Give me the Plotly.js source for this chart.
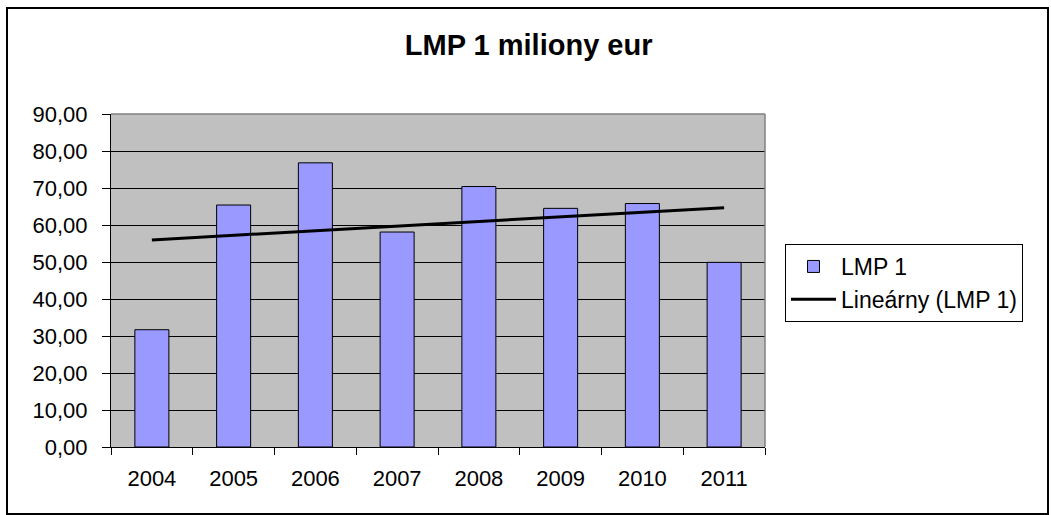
<!DOCTYPE html>
<html>
<head>
<meta charset="utf-8">
<script src="https://cdn.plot.ly/plotly-3.0.1.min.js"></script>
<style>html,body{margin:0;padding:0;background:#fff;}#chart{width:1051px;height:515px;}</style>
</head>
<body>
<div id="chart"></div>
<script>
const years = ["2004", "2005", "2006", "2007", "2008", "2009", "2010", "2011"];
const lmp1 = [31.7, 65.4, 76.8, 58.1, 70.4, 64.5, 65.8, 49.9];
const seriesName = "LMP 1";
const trendName = "Lineárny (LMP 1)";
const chartTitle = "LMP 1 miliony eur";

// linear least-squares trend over category index (as Excel's linear trendline)
function linearTrend(vals) {
  const n = vals.length;
  const xs = vals.map((_, i) => i + 1);
  const mx = xs.reduce((a, b) => a + b, 0) / n;
  const my = vals.reduce((a, b) => a + b, 0) / n;
  let sxy = 0, sxx = 0;
  for (let i = 0; i < n; i++) { sxy += (xs[i] - mx) * (vals[i] - my); sxx += (xs[i] - mx) ** 2; }
  const b = sxy / sxx, a = my - b * mx;
  return xs.map(x => a + b * x);
}
const trend = linearTrend(lmp1);

const W = 1051, H = 515;
const M = {l: 111, r: W - 765, t: 114, b: H - 447};
const pw = W - M.l - M.r, ph = H - M.t - M.b;
const px = v => (v - M.l) / pw;
const py = v => (H - M.b - v) / ph;

const FONT = "Liberation Sans, Arial, sans-serif";

const data = [
  {
    type: "bar", x: years, y: lmp1, name: seriesName,
    marker: {color: "#9999FF", line: {color: "#000000", width: 1}},
    hoverinfo: "x+y"
  },
  {
    type: "scatter", mode: "lines", x: years, y: trend, name: trendName,
    line: {color: "#000000", width: 3}
  }
];

const layout = {
  width: W, height: H,
  margin: M,
  paper_bgcolor: "#ffffff",
  plot_bgcolor: "#C0C0C0",
  separators: ", ",
  font: {family: FONT, size: 22, color: "#000000"},
  title: {
    text: chartTitle,
    font: {family: FONT, size: 29, color: "#000000", weight: "bold"},
    x: 0.503, xanchor: "center", xref: "container",
    y: 1 - 45 / H, yanchor: "middle", yref: "container"
  },
  bargap: 0.584,
  showlegend: true,
  legend: {
    x: px(785), xanchor: "left", y: py(244), yanchor: "top",
    bgcolor: "#ffffff", bordercolor: "#000000", borderwidth: 1,
    font: {family: FONT, size: 23, color: "#000000"},
    itemwidth: 45, tracegroupgap: 0
  },
  xaxis: {
    type: "category",
    showgrid: false, zeroline: false,
    showline: true, linecolor: "#000000", linewidth: 1,
    ticks: "outside", ticklen: 7, tickcolor: "#000000", tickwidth: 1,
    tickson: "boundaries",
    ticklabelstandoff: 12,
    tickfont: {family: FONT, size: 22, color: "#000000"}
  },
  yaxis: {
    range: [0, 90], dtick: 10, tick0: 0,
    tickformat: ".2f",
    showgrid: true, gridcolor: "#000000", gridwidth: 1,
    zeroline: false,
    showline: true, linecolor: "#000000", linewidth: 1,
    ticks: "outside", ticklen: 8, tickcolor: "#000000", tickwidth: 1,
    ticklabelstandoff: 10,
    tickfont: {family: FONT, size: 22, color: "#000000"}
  },
  shapes: [
    {type: "line", xref: "paper", yref: "paper", x0: 0, x1: 1, y0: 1, y1: 1,
     line: {color: "#808080", width: 1.5}},
    {type: "line", xref: "paper", yref: "paper", x0: 1, x1: 1, y0: 0, y1: 1,
     line: {color: "#808080", width: 1.5}},
    {type: "rect", xref: "paper", yref: "paper",
     x0: px(7), x1: px(1048), y0: py(514), y1: py(8),
     line: {color: "#000000", width: 2}, fillcolor: "rgba(0,0,0,0)", layer: "above"}
  ]
};

Plotly.newPlot("chart", data, layout, {displayModeBar: false, staticPlot: true});
</script>
</body>
</html>
